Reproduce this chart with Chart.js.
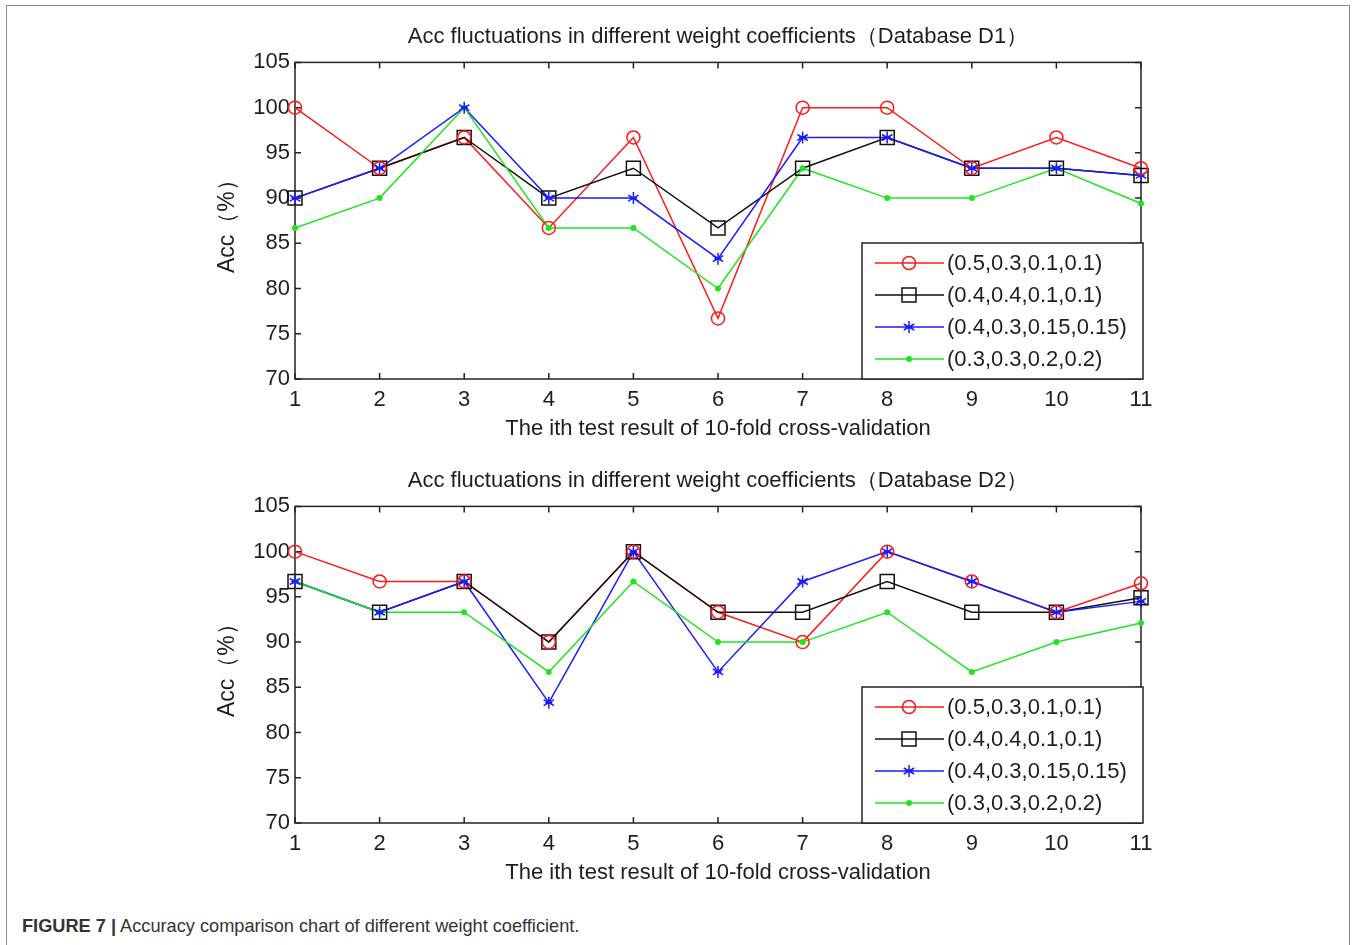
<!DOCTYPE html>
<html><head><meta charset="utf-8">
<script src="https://cdn.jsdelivr.net/npm/chart.js@4.4.1/dist/chart.umd.min.js"></script>
<style>
body{margin:0;background:#fff;width:1357px;height:945px;overflow:hidden;position:relative;font-family:"Liberation Sans",Arial,sans-serif}
#frame{position:absolute;left:6px;top:5px;width:1344px;height:980px;border:1.5px solid #8a8a8a;box-sizing:border-box}
.cw{position:absolute;left:190px;width:990px;height:450px}
#caption{position:absolute;left:22px;top:916px;font-size:18.2px;color:#333;white-space:nowrap}
</style></head><body>
<div id="frame"></div>
<div class="cw" style="top:0"><canvas id="c1" width="990" height="450"></canvas></div>
<div class="cw" style="top:444px"><canvas id="c2" width="990" height="450"></canvas></div>
<div id="caption"><b>FIGURE 7 |</b> Accuracy comparison chart of different weight coefficient.</div>
<script>
// ---- data ----
const folds = ['1','2','3','4','5','6','7','8','9','10','11'];
const seriesNames = ['(0.5,0.3,0.1,0.1)','(0.4,0.4,0.1,0.1)','(0.4,0.3,0.15,0.15)','(0.3,0.3,0.2,0.2)'];
const titleD1 = 'Acc fluctuations in different weight coefficients（Database D1）';
const titleD2 = 'Acc fluctuations in different weight coefficients（Database D2）';
const xTitle = 'The ith test result of 10-fold cross-validation';
const yTitle = 'Acc（%）';
const yMin = 70, yMax = 105, yStep = 5;

const d1_a = [100, 93.3, 96.7, 86.7, 96.7, 76.7, 100, 100, 93.3, 96.7, 93.3];
const d1_b = [90, 93.3, 96.7, 90, 93.3, 86.7, 93.3, 96.7, 93.3, 93.3, 92.5];
const d1_c = [90, 93.3, 100, 90, 90, 83.3, 96.7, 96.7, 93.3, 93.3, 92.5];
const d1_d = [86.7, 90, 100, 86.7, 86.7, 80, 93.3, 90, 90, 93.3, 89.4];

const d2_a = [100, 96.7, 96.7, 90, 100, 93.3, 90, 100, 96.7, 93.3, 96.5];
const d2_b = [96.7, 93.3, 96.7, 90, 100, 93.3, 93.3, 96.7, 93.3, 93.3, 94.9];
const d2_c = [96.7, 93.3, 96.7, 83.3, 100, 86.7, 96.7, 100, 96.7, 93.3, 94.5];
const d2_d = [96.7, 93.3, 93.3, 86.7, 96.7, 90, 90, 93.3, 86.7, 90, 92.1];

// ---- styles ----
const FONT = '"Liberation Sans", Arial, sans-serif';
Chart.defaults.font.family = FONT;
Chart.defaults.color = '#1e1e1e';
const styles = [
  {color:'#ff1a1a', marker:'circle', r:6.5, order:4},
  {color:'#111111', marker:'square', r:7, order:3},
  {color:'#1a1aff', marker:'star', r:6, order:2},
  {color:'#1ee61e', marker:'dot', r:3, order:1}
];

function drawMarker(ctx, type, x, y, r, color) {
  ctx.save();
  ctx.strokeStyle = color; ctx.fillStyle = color; ctx.lineWidth = 1.5;
  ctx.beginPath();
  if (type === 'circle') { ctx.arc(x, y, r, 0, Math.PI*2); ctx.stroke(); }
  else if (type === 'square') { ctx.rect(x-r, y-r, 2*r, 2*r); ctx.stroke(); }
  else if (type === 'star') {
    ctx.moveTo(x, y-r); ctx.lineTo(x, y+r);
    ctx.moveTo(x-r*0.87, y-r*0.5); ctx.lineTo(x+r*0.87, y+r*0.5);
    ctx.moveTo(x-r*0.87, y+r*0.5); ctx.lineTo(x+r*0.87, y-r*0.5);
    ctx.moveTo(x-r*0.6, y); ctx.lineTo(x+r*0.6, y);
    ctx.stroke();
  } else { ctx.arc(x, y, r, 0, Math.PI*2); ctx.fill(); }
  ctx.restore();
}

const matlabPlugin = {
  id: 'matlab',
  beforeDatasetsDraw(chart) {
    const {ctx, chartArea: a, scales: {x, y}} = chart;
    ctx.save();
    ctx.strokeStyle = '#222'; ctx.lineWidth = 1.5;
    ctx.strokeRect(a.left, a.top, a.right - a.left, a.bottom - a.top);
    ctx.beginPath();
    const tl = 6;
    x.ticks.forEach((t, i) => {
      const px = x.getPixelForTick(i);
      ctx.moveTo(px, a.bottom); ctx.lineTo(px, a.bottom - tl);
      ctx.moveTo(px, a.top); ctx.lineTo(px, a.top + tl);
    });
    y.ticks.forEach(t => {
      const py = y.getPixelForValue(t.value);
      ctx.moveTo(a.left, py); ctx.lineTo(a.left + tl, py);
      ctx.moveTo(a.right, py); ctx.lineTo(a.right - tl, py);
    });
    ctx.stroke();
    ctx.restore();
  },
  afterDatasetsDraw(chart) {
    const {ctx, chartArea: a} = chart;
    for (let idx = chart.data.datasets.length - 1; idx >= 0; idx--) {
      const meta = chart.getDatasetMeta(idx);
      const st = styles[idx];
      meta.data.forEach(pt => drawMarker(ctx, st.marker, pt.x, pt.y, st.r, st.color));
    }
    // legend
    const lw = 281, lh = 136;
    const lx = a.right - lw + 2, ly = a.bottom - lh;
    ctx.save();
    ctx.fillStyle = '#fff';
    ctx.fillRect(lx, ly, lw, lh);
    ctx.strokeStyle = '#222'; ctx.lineWidth = 1.5;
    ctx.strokeRect(lx, ly, lw, lh);
    ctx.font = '22px ' + FONT;
    ctx.textBaseline = 'middle';
    chart.data.datasets.forEach((ds, i) => {
      const st = styles[i];
      const cy = ly + 20 + i * 32;
      ctx.strokeStyle = st.color; ctx.lineWidth = 1.5;
      ctx.beginPath(); ctx.moveTo(lx + 13, cy); ctx.lineTo(lx + 82, cy); ctx.stroke();
      drawMarker(ctx, st.marker, lx + 47, cy, st.r, st.color);
      ctx.fillStyle = '#1e1e1e';
      ctx.fillText(ds.label, lx + 85, cy + 1);
    });
    ctx.restore();
  }
};

function makeChart(id, title, arrs) {
  return new Chart(document.getElementById(id), {
    type: 'line',
    data: {
      labels: folds,
      datasets: arrs.map((arr, i) => ({
        label: seriesNames[i],
        data: arr,
        borderColor: styles[i].color,
        borderWidth: 1.5,
        pointRadius: 0,
        tension: 0,
        fill: false,
        clip: false,
        order: styles[i].order
      }))
    },
    options: {
      responsive: false,
      animation: false,
      layout: {padding: {left: 0, right: 39, top: 0, bottom: 0}},
      plugins: {
        legend: {display: false},
        tooltip: {enabled: false},
        title: {display: true, text: title, fullSize: false, color: '#1e1e1e',
                font: {size: 22, weight: 'normal'}, padding: {top: 24, bottom: 12}}
      },
      scales: {
        x: {
          type: 'category', offset: false,
          grid: {display: false, tickLength: 0}, border: {display: false},
          ticks: {font: {size: 22}, padding: 8, maxRotation: 0, autoSkip: false, color: '#1e1e1e'},
          title: {display: true, text: xTitle, font: {size: 22}, color: '#1e1e1e', padding: {top: 0, bottom: 8}},
          afterFit: s => { s.height = 71; }
        },
        y: {
          min: yMin, max: yMax,
          grid: {display: false, tickLength: 0}, border: {display: false},
          ticks: {stepSize: yStep, font: {size: 22}, padding: 5, color: '#1e1e1e'},
          title: {display: true, text: yTitle, font: {size: 23}, color: '#1e1e1e', padding: {top: 24, bottom: 0}},
          afterFit: s => { s.width = 105; }
        }
      }
    },
    plugins: [matlabPlugin]
  });
}

makeChart('c1', titleD1, [d1_a, d1_b, d1_c, d1_d]);
makeChart('c2', titleD2, [d2_a, d2_b, d2_c, d2_d]);
</script>
</body></html>
